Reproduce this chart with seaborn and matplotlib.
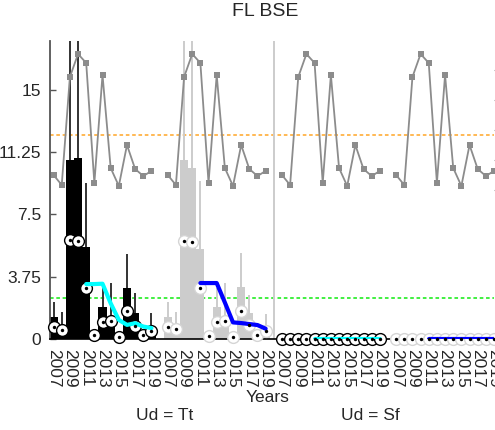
import numpy as np
import pandas as pd
import matplotlib
matplotlib.use("Agg")
import matplotlib.pyplot as plt
import seaborn as sns

sns.set_style("white")
plt.rcParams['font.family'] = ['Liberation Sans', 'DejaVu Sans']

# ---------------- data ----------------
years = list(range(2007, 2020))
tick_years = [2007, 2009, 2011, 2013, 2015, 2017, 2019]
panels = ["Tt", "Sf"]

# bars (Ud = Tt), series A (black) and B (light grey)
bars_A = [1.33, 0.7, 10.8, 10.9, 5.56, 0.1, 1.95, 1.35, 0.3, 3.1, 1.57, 0.5, 0.5]
bars_B = [1.33, 0.7, 10.8, 10.3, 5.4, 0.1, 1.93, 1.3, 0.3, 3.13, 1.57, 0.5, 0.5]
err_A = [2.2, 1.6, 19.0, 19.0, 9.4, np.nan, 3.1, 3.4, np.nan, 5.1, 2.77, np.nan, 1.57]
err_B = [2.2, 1.6, 19.0, 19.0, 9.5, np.nan, 3.1, 3.4, np.nan, 5.2, 2.65, np.nan, 1.5]
# bars (Ud = Sf) are all zero
bars_Sf = [0.0] * 13

# points
pts_A = [0.72, 0.54, 5.96, 5.9, 3.07, 0.24, 1.02, 1.08, 0.12, 1.69, 0.78, 0.24, 0.48]
pts_B = [0.72, 0.6, 5.9, 5.84, 3.07, 0.18, 1.02, 1.08, 0.12, 1.69, 0.84, 0.24, 0.48]
pts_Sf = [0.0] * 13

# trend lines 2011-2019
trend_years = list(range(2011, 2020))
trend_A = [3.31, 3.31, 3.33, 2.15, 1.15, 0.85, 0.95, 0.75, 0.66]
trend_B = [3.37, 3.37, 3.37, 2.2, 1.0, 0.96, 0.9, 0.84, 0.62]
trend_Sf = [0.0] * 9

# secondary series (grey squares), right axis
grey_series = [12.5, 10.83, 28.83, 32.67, 31.17, 11.17, 29.17, 13.67, 10.67,
               17.5, 13.5, 12.33, 13.17]

ref_orange = 12.3
ref_green = 2.47

# ---------------- layout helpers ----------------
SLOT = 14  # slots per block
blocks = [("Tt", "A"), ("Tt", "B"), ("Sf", "A"), ("Sf", "B")]
bar_data = {("Tt", "A"): bars_A, ("Tt", "B"): bars_B,
            ("Sf", "A"): bars_Sf, ("Sf", "B"): bars_Sf}
err_data = {("Tt", "A"): err_A, ("Tt", "B"): err_B}
pt_data = {("Tt", "A"): pts_A, ("Tt", "B"): pts_B,
           ("Sf", "A"): pts_Sf, ("Sf", "B"): pts_Sf}
tr_data = {("Tt", "A"): trend_A, ("Tt", "B"): trend_B,
           ("Sf", "A"): trend_Sf, ("Sf", "B"): trend_Sf}

rows = []
for b, key in enumerate(blocks):
    for i, y in enumerate(years):
        rows.append(dict(pos=b * SLOT + i, val=bar_data[key][i], ser=key[1],
                         pt=pt_data[key][i], block=b))
df = pd.DataFrame(rows)

fig = plt.figure(figsize=(4.95, 4.30), dpi=100)
L, R, T, B = 49.5, 494.0, 41.0, 339.0
ax = fig.add_axes([L / 495, (430 - B) / 430, (R - L) / 495, (B - T) / 430])

bar_pal = {"A": "black", "B": "#cccccc"}
sns.barplot(data=df, x="pos", y="val", hue="ser", palette=bar_pal,
            native_scale=True, dodge=False, width=1.0, errorbar=None,
            legend=False, ax=ax, linewidth=0, zorder=2)

# error bars
err_col = {"A": "#333333", "B": "#cccccc"}
for b, key in enumerate(blocks[:2]):
    pos = [b * SLOT + i for i in range(13)]
    ax.vlines(pos, bar_data[key], err_data[key], colors=err_col[key[1]],
              lw=1.4, zorder=2.5)

# trend lines
tr_col = {"A": "cyan", "B": "blue"}
for b, key in enumerate(blocks):
    tpos = [b * SLOT + (y - 2007) for y in trend_years]
    sns.lineplot(x=tpos, y=tr_data[key], color=tr_col[key[1]], lw=3.0,
                 ax=ax, zorder=4, solid_capstyle="round")

# circles
edge_col = {"A": "black", "B": "#d5d5d5"}
for b, key in enumerate(blocks):
    sub = df[df.block == b]
    sns.scatterplot(x=sub.pos, y=sub.pt, s=72, color="white",
                    edgecolor=edge_col[key[1]], linewidth=1.0, ax=ax,
                    zorder=3.5, clip_on=False)
for b, key in enumerate(blocks):
    sub = df[df.block == b]
    sns.scatterplot(x=sub.pos, y=sub.pt, s=6, color="black", linewidth=0,
                    ax=ax, zorder=5, clip_on=False)

ax.axhline(ref_orange, color="#ffb347", ls=(0, (2, 1.5)), lw=1.3, zorder=1)
ax.axhline(ref_green, color="#33ee33", ls=(0, (2, 1.5)), lw=1.3, zorder=1)
ax.axvline(27, color="#cccccc", lw=1.4, zorder=1)

ax.set_xlim(-0.5, 53.9)
ax.set_ylim(0, 17.95)
ax.set_yticks([0, 3.75, 7.5, 11.25, 15])
ax.set_yticklabels(["0", "3.75", "7.5", "11.25", "15"])
xt = [b * SLOT + (y - 2007) for b in range(4) for y in tick_years]
xl = [str(y) for b in range(4) for y in tick_years]
ax.set_xticks(xt)
ax.set_xticklabels(xl, rotation=270, va="top", ha="center")
ax.tick_params(axis="x", length=0, pad=7, labelsize=12.5)
ax.tick_params(axis="y", direction="in", length=4, width=1, color="#555555",
               pad=6, labelsize=12.5)
ax.set_xlabel("")
ax.set_ylabel("")
for s in ["top", "right"]:
    ax.spines[s].set_visible(False)
ax.spines["left"].set_color("#555555")
ax.spines["left"].set_linewidth(1.3)
ax.spines["bottom"].set_color("black")
ax.spines["bottom"].set_linewidth(1.2)
ax.spines["bottom"].set_zorder(3)

# secondary axis
ax2 = ax.twinx()
for b in range(4):
    gpos = [b * SLOT + i for i in range(13)]
    sns.lineplot(x=gpos, y=grey_series, color="#8c8c8c", lw=1.3, marker="s",
                 markersize=5, markeredgewidth=0, ax=ax2)
ax2.set_ylim(10 - 149 / 6, 10 + 149 / 6)
ax2.set_yticks([10, 15, 20, 25, 30])
ax2.set_yticklabels([])
ax2.tick_params(axis="y", direction="out", length=4, color="#999999")
ax2.set_ylabel("")
for s in ax2.spines.values():
    s.set_visible(False)
ax2.set_xlim(ax.get_xlim())

fig.text(265 / 495, 1 - 12 / 430, "FL BSE", ha="center", va="center", fontsize=14)
fig.text(268 / 495, 1 - 397 / 430, "Years", ha="center", va="center", fontsize=12.5)
fig.text(165 / 495, 1 - 415 / 430, "Ud = Tt", ha="center", va="center", fontsize=12.5)
fig.text(370 / 495, 1 - 415 / 430, "Ud = Sf", ha="center", va="center", fontsize=12.5)

fig.savefig("out.png", dpi=100)
